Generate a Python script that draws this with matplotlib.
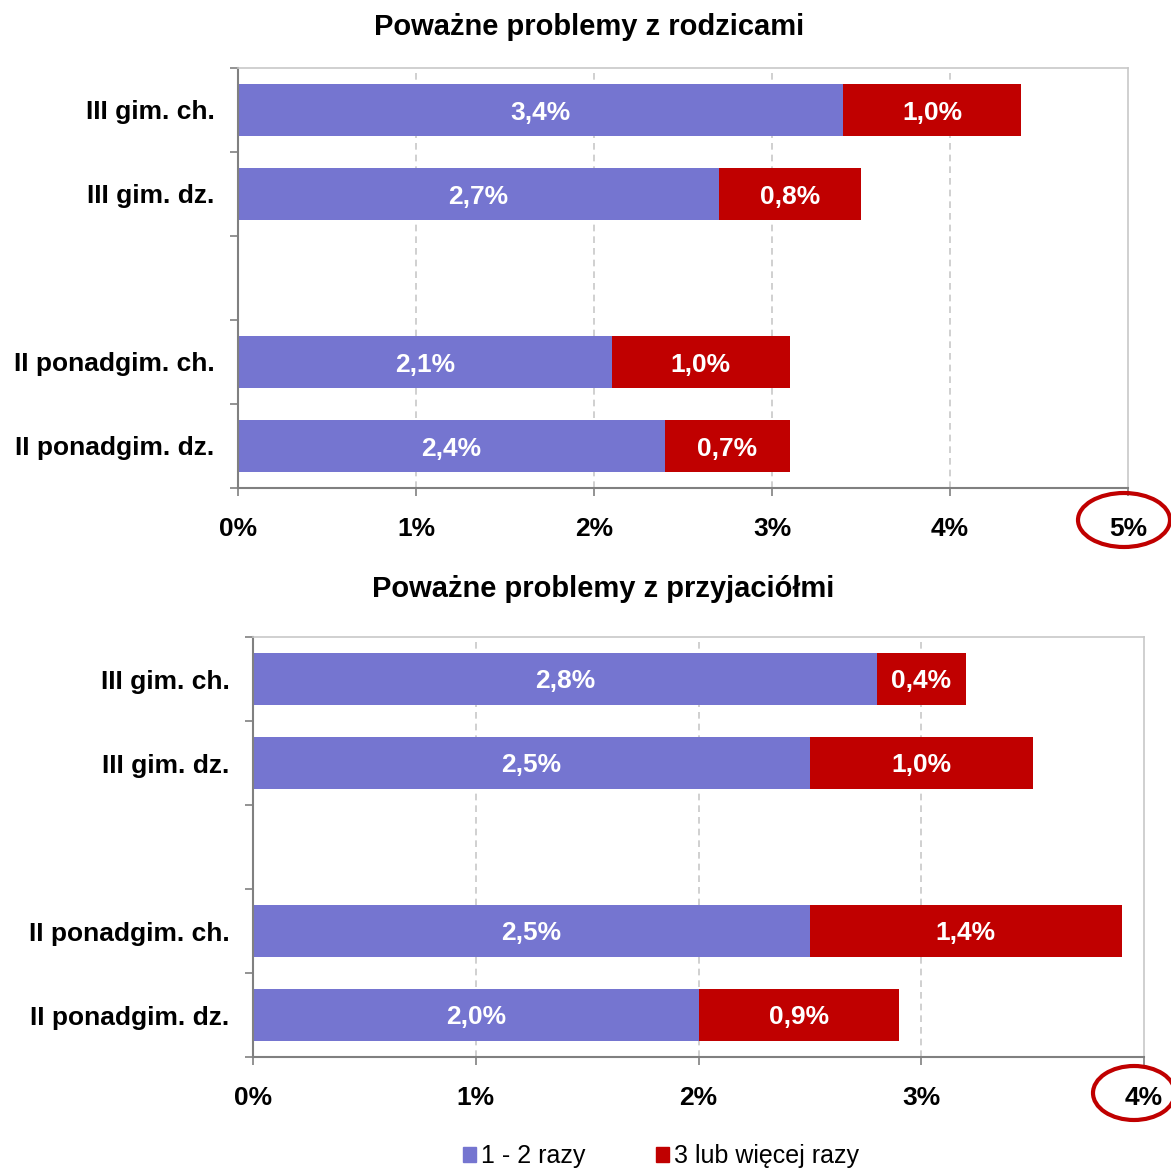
#!/usr/bin/env python3
"""Stacked horizontal bars: serious problems with parents / friends by school group."""

import matplotlib

matplotlib.use("Agg")
import matplotlib.pyplot as plt
from matplotlib.patches import Ellipse, Patch

plt.rcParams["font.family"] = ["Liberation Sans", "DejaVu Sans"]

# slot order top -> bottom, the empty string is the spacer row
CATEGORIES = ["III gim. ch.", "III gim. dz.", "", "II ponadgim. ch.", "II ponadgim. dz."]
SERIES_NAMES = ["1 - 2 razy", "3 lub więcej razy"]

PARENTS_TITLE = "Poważne problemy z rodzicami"
PARENTS_LOW = [3.4, 2.7, None, 2.1, 2.4]
PARENTS_HIGH = [1.0, 0.8, None, 1.0, 0.7]
PARENTS_TICKS = [0, 1, 2, 3, 4, 5]

FRIENDS_TITLE = "Poważne problemy z przyjaciółmi"
FRIENDS_LOW = [2.8, 2.5, None, 2.5, 2.0]
FRIENDS_HIGH = [0.4, 1.0, None, 1.4, 0.9]
FRIENDS_TICKS = [0, 1, 2, 3, 4]

COLOR_LOW = "#7575D0"
COLOR_HIGH = "#C00000"
SPINE_DARK = "#808080"
SPINE_LIGHT = "#C8C8C8"
FONT_SIZE = 19
TITLE_SIZE = 21
LEGEND_SIZE = 18
BAR_HEIGHT = 0.62


def pct(v):
    return f"{v:.1f}%".replace(".", ",")


def draw_panel(ax, low, high, ticks):
    n = len(CATEGORIES)
    ys = [n - 1 - i for i in range(n)]
    for y, lo, hi in zip(ys, low, high):
        if lo is None:
            continue
        ax.barh(y, lo, height=BAR_HEIGHT, color=COLOR_LOW, zorder=2)
        ax.barh(y, hi, left=lo, height=BAR_HEIGHT, color=COLOR_HIGH, zorder=2)
        for left, width in ((0, lo), (lo, hi)):
            ax.text(left + width / 2, y, pct(width), ha="center", va="center_baseline",
                    color="white", fontsize=FONT_SIZE, fontweight="bold", zorder=3)

    ax.set_xlim(ticks[0], ticks[-1])
    ax.set_ylim(-0.5, n - 0.5)
    ax.set_xticks(ticks)
    ax.set_xticklabels([f"{t}%" for t in ticks], fontsize=FONT_SIZE, fontweight="bold")
    ax.tick_params(axis="x", direction="out", length=6, width=1.2, color=SPINE_DARK, pad=15)

    ax.set_yticks([i - 0.5 for i in range(n + 1)])
    ax.set_yticklabels([])
    ax.tick_params(axis="y", which="major", direction="out", length=6, width=1.2, color=SPINE_DARK)
    ax.set_yticks(ys, minor=True)
    ax.set_yticklabels(CATEGORIES, minor=True, fontsize=FONT_SIZE, fontweight="bold")
    ax.tick_params(axis="y", which="minor", length=0, pad=17)

    for t in ticks[1:-1]:
        ax.axvline(t, color=SPINE_LIGHT, linestyle=(0, (4, 3)), linewidth=1.2, zorder=1)

    for side in ("left", "bottom"):
        ax.spines[side].set_color(SPINE_DARK)
        ax.spines[side].set_linewidth(1.5)
    for side in ("top", "right"):
        ax.spines[side].set_color(SPINE_LIGHT)
        ax.spines[side].set_linewidth(1.2)


def circle_label(fig, cx, cy, w, h):
    W, H = fig.get_size_inches() * fig.dpi
    fig.patches.append(Ellipse((cx / W, 1 - cy / H), w / W, h / H, transform=fig.transFigure,
                               fill=False, edgecolor=COLOR_HIGH, linewidth=3))


def main():
    fig = plt.figure(figsize=(11.71, 11.69), dpi=100)
    ax_top = fig.add_axes([238 / 1171, 1 - 488 / 1169, 890 / 1171, 420 / 1169])
    ax_bot = fig.add_axes([253 / 1171, 1 - 1057 / 1169, 891 / 1171, 420 / 1169])

    draw_panel(ax_top, PARENTS_LOW, PARENTS_HIGH, PARENTS_TICKS)
    draw_panel(ax_bot, FRIENDS_LOW, FRIENDS_HIGH, FRIENDS_TICKS)

    fig.text(589 / 1171, 1 - 27 / 1169, PARENTS_TITLE, ha="center", va="center",
             fontsize=TITLE_SIZE, fontweight="bold")
    fig.text(603 / 1171, 1 - 589 / 1169, FRIENDS_TITLE, ha="center", va="center",
             fontsize=TITLE_SIZE, fontweight="bold")

    circle_label(fig, 1124, 520, 92, 54)
    circle_label(fig, 1134, 1093, 82, 54)

    handles = [Patch(color=COLOR_LOW, label=SERIES_NAMES[0]),
               Patch(color=COLOR_HIGH, label=SERIES_NAMES[1])]
    fig.legend(handles=handles, loc="center", ncol=2,
               bbox_to_anchor=(661 / 1171, 1 - 1156 / 1169), frameon=False,
               fontsize=LEGEND_SIZE, handlelength=0.55, handleheight=0.55,
               handletextpad=0.2, columnspacing=2.8, borderpad=0)

    fig.savefig("out.png", dpi=100)
    plt.close(fig)


if __name__ == "__main__":
    main()
